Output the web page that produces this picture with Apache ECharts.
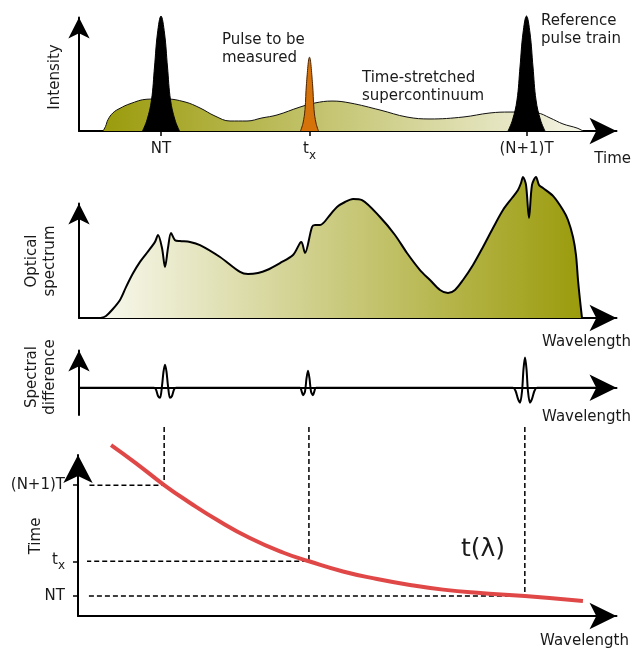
<!DOCTYPE html>
<html><head><meta charset="utf-8">
<script src="https://cdn.jsdelivr.net/npm/echarts@6/dist/echarts.min.js"></script>
<style>html,body{margin:0;padding:0;background:#fff}#c{width:633px;height:652px}</style>
</head><body><div id="c"></div>
<script>
// ---------- DATA (x in relative units along the horizontal axes) ----------
// Panel 1: time-stretched supercontinuum intensity vs time
const supercontinuum = [[4.8,0],[5.3,0.04],[5.8,0.1],[6.8,0.16],[8.2,0.2],[10.2,0.24],[13.6,0.28],[17.2,0.283],[21.2,0.256],[24.2,0.203],[27.2,0.132],[30.2,0.088],[33.6,0.088],[36.6,0.115],[39.6,0.141],[44.2,0.211],[47.2,0.247],[50.6,0.264],[54.2,0.247],[60.2,0.185],[65.6,0.123],[70.2,0.106],[76.8,0.123],[82.2,0.159],[86.2,0.167],[91.6,0.159],[94.2,0.115],[96.8,0.062],[99.6,0.026],[100.8,0]];
const refPulseNT = [[12.7,0],[13.6,0.097],[14.5,0.273],[15.1,0.564],[15.7,0.863],[16.4,1.013],[17.1,0.863],[17.7,0.564],[18.3,0.273],[19.2,0.097],[20.1,0]];
const refPulseN1T = [[85.8,0],[86.7,0.097],[87.6,0.273],[88.2,0.564],[88.8,0.863],[89.5,1.013],[90.2,0.863],[90.8,0.564],[91.4,0.273],[92.3,0.097],[93.2,0]];
const signalPulse = [[44.3,0],[44.8,0.07],[45.2,0.19],[45.5,0.42],[46.1,0.65],[46.7,0.42],[47.0,0.19],[47.4,0.07],[47.9,0]];
const timeTickValues = [16.4, 46.1, 89.5];
const timeTickLabels = ['NT', '{t|t}{s|x}', '(N+1)T'];

// Panel 2: optical spectrum vs wavelength
const opticalSpectrum = [[4.4,0],[5.4,0.018],[6.6,0.07],[8.2,0.158],[9.4,0.27],[10.8,0.39],[12.2,0.49],[13.6,0.57],[15.2,0.665],[15.8,0.725],[16.6,0.612],[17.2,0.445],[17.8,0.612],[18.4,0.743],[19.2,0.68],[20.2,0.672],[22.2,0.664],[24.2,0.637],[28.2,0.533],[32.2,0.402],[33.8,0.384],[35.8,0.393],[37.6,0.419],[40.2,0.48],[42.8,0.55],[44.2,0.655],[44.5,0.664],[45.2,0.568],[46.6,0.795],[47.2,0.812],[48.2,0.812],[50.2,0.9],[51.6,0.97],[53.2,1.013],[54.8,1.04],[56.6,1.03],[60.2,0.882],[63.2,0.725],[65.6,0.568],[68.2,0.419],[70.2,0.332],[72.2,0.245],[73.8,0.218],[75.2,0.245],[76.8,0.332],[78.8,0.463],[80.8,0.62],[82.8,0.786],[84.8,0.943],[86.6,1.048],[87.8,1.118],[88.4,1.179],[88.8,1.232],[89.4,1.162],[90.0,0.873],[90.6,1.162],[91.4,1.232],[92.0,1.162],[92.8,1.135],[94.8,1.066],[96.8,0.943],[97.8,0.856],[98.8,0.708],[99.4,0.55],[99.8,0.332],[100.2,0.157],[100.6,0]];

// Panel 3: spectral difference vs wavelength
const spectralDifference = [[0,0],[15.0,0],[15.4,-0.05],[15.8,-0.22],[16.2,-0.27],[16.6,0.05],[16.9,0.43],[17.2,0.62],[17.5,0.43],[17.8,0.05],[18.2,-0.27],[18.6,-0.22],[19.0,-0.05],[19.4,0],[44.2,0],[44.5,-0.08],[44.8,-0.2],[45.2,-0.1],[45.5,0.25],[45.8,0.46],[46.1,0.25],[46.4,-0.1],[46.8,-0.2],[47.1,-0.08],[47.4,0],[86.8,0],[87.3,-0.08],[87.8,-0.3],[88.2,-0.4],[88.6,-0.1],[88.9,0.5],[89.2,0.81],[89.5,0.5],[89.8,-0.1],[90.2,-0.4],[90.6,-0.3],[91.1,-0.08],[91.6,0],[106,0]];

// Panel 4: wavelength-to-time mapping t(λ), time in units of T relative to NT
const timeMapping = [[6.6,1.363],[11.4,1.205],[17.2,1.002],[22.4,0.84],[27.8,0.686],[34.3,0.524],[40.9,0.393],[46.1,0.314],[52.9,0.222],[59.7,0.154],[66.3,0.10],[72.9,0.058],[79.7,0.029],[89.2,0.0],[100.8,-0.045]];
const markWavelengths = [17.2, 46.1, 89.2];
const markTimes = [1.0, 0.314, 0.0];
const markTimeLabels = ['(N+1)T', '{t|t}{s|x}', 'NT'];

// ---------- LAYOUT / STYLE ----------
const FONT = 'DejaVu Sans';
const TXT = '#1a1a1a';
const X_MAX = 107.5;
const GUIDE_TOP = 1.526, GUIDE_START = 1.8;
const subRich = {
  t: { fontSize: 15, fontFamily: FONT, color: TXT, lineHeight: 18, verticalAlign: 'top' },
  s: { fontSize: 12, fontFamily: FONT, color: TXT, lineHeight: 12, verticalAlign: 'top', padding: [8, 0, 0, 0] }
};

function nearestLabel(v, vals, labels) {
  let bi = 0, bd = Infinity;
  vals.forEach((x, i) => { const d = Math.abs(x - v); if (d < bd) { bd = d; bi = i; } });
  return labels[bi];
}

const axisLineX = { show: true, onZero: true, symbol: ['none', 'arrow'], symbolSize: [20, 27], lineStyle: { color: '#000', width: 2 } };
const axisLineY = { show: true, symbol: ['none', 'arrow'], symbolSize: [16, 21], lineStyle: { color: '#000', width: 2 } };
function xAx(i, extra) {
  return Object.assign({ type: 'value', gridIndex: i, min: 0, max: X_MAX, splitLine: { show: false },
    axisLabel: { show: false }, axisTick: { show: false }, axisLine: axisLineX }, extra || {});
}
function yAx(i, min, max, extra) {
  return Object.assign({ type: 'value', gridIndex: i, min: min, max: max, splitLine: { show: false },
    axisLabel: { show: false }, axisTick: { show: false }, axisLine: axisLineY }, extra || {});
}

const olive = '#9b9b0c', pale = '#f8f8ee';
function grad(a, b) { return new echarts.graphic.LinearGradient(0, 0, 1, 0, [{ offset: 0, color: a }, { offset: 1, color: b }]); }

function areaSeries(data, xi, fill, stroke, w, z, sm) {
  return { type: 'line', xAxisIndex: xi, yAxisIndex: xi, data: data, smooth: sm == null ? 0.4 : sm, symbol: 'none',
    clip: false, silent: true, z: z, lineStyle: { color: stroke, width: w }, areaStyle: { color: fill, opacity: 1 } };
}

const guideSeries = markWavelengths.map((w, i) => ({
  type: 'line', xAxisIndex: 3, yAxisIndex: 3, symbol: 'none', clip: false, silent: true, z: 3,
  data: [[w, GUIDE_TOP], [w, markTimes[i]], [GUIDE_START, markTimes[i]]],
  lineStyle: { color: '#000', width: 1.5, type: [5, 3] }
}));

function txt(x, y, text, opts) {
  const o = opts || {};
  return { type: 'text', x: x, y: y, rotation: o.rot || 0, silent: true,
    style: { text: text, fill: TXT, fontSize: o.size || 15, fontFamily: FONT, lineHeight: o.lh || 18,
      align: o.align || 'left', textAlign: o.align || 'left',
      verticalAlign: o.va || 'top', textVerticalAlign: o.va || 'top' } };
}

const chart = echarts.init(document.getElementById('c'), null, { renderer: 'canvas' });
chart.setOption({
  animation: false,
  backgroundColor: '#fff',
  grid: [
    { left: 79, top: 17.5, width: 537.5, height: 113.5 },
    { left: 79, top: 203.5, width: 537.5, height: 114.5 },
    { left: 79, top: 350.5, width: 537.5, height: 64.5 },
    { left: 78, top: 455, width: 538.5, height: 161 }
  ],
  xAxis: [
    xAx(0, {
      axisTick: { show: true, customValues: timeTickValues, length: 5, lineStyle: { color: '#000', width: 1.5 } },
      axisLabel: { show: true, customValues: timeTickValues, margin: 11, color: TXT, fontSize: 15, fontFamily: FONT,
        rich: subRich, formatter: v => nearestLabel(v, timeTickValues, timeTickLabels) }
    }),
    xAx(1),
    xAx(2),
    xAx(3, { axisLine: Object.assign({}, axisLineX, { onZero: false }) })
  ],
  yAxis: [
    yAx(0, 0, 1),
    yAx(1, 0, 1),
    yAx(2, -0.73, 1),
    yAx(3, -0.18, 1.273, {
      axisLine: Object.assign({}, axisLineY, { symbolSize: [22, 28] }),
      axisTick: { show: true, customValues: markTimes, length: 5, lineStyle: { color: '#000', width: 1.5 } },
      axisLabel: { show: true, customValues: markTimes, margin: 13, color: TXT, fontSize: 15, fontFamily: FONT,
        rich: subRich, formatter: v => nearestLabel(v, markTimes, markTimeLabels) }
    })
  ],
  series: [
    areaSeries(supercontinuum, 0, grad(olive, '#f4f4e6'), '#111', 1, 2),
    areaSeries(refPulseNT, 0, '#000', '#000', 1, 3),
    areaSeries(refPulseN1T, 0, '#000', '#000', 1, 3),
    areaSeries(signalPulse, 0, '#d6720a', '#4a2200', 1, 3),
    areaSeries(opticalSpectrum, 1, grad(pale, olive), '#000', 2, 2, 0.3),
    { type: 'line', xAxisIndex: 2, yAxisIndex: 2, data: spectralDifference, smooth: 0.3,
      symbol: 'none', clip: false, silent: true, z: 3, lineStyle: { color: '#000', width: 2 } },
    ...guideSeries,
    { type: 'line', xAxisIndex: 3, yAxisIndex: 3, data: timeMapping, smooth: 0.5,
      symbol: 'none', clip: false, silent: true, z: 4, lineStyle: { color: '#e04848', width: 4, cap: 'butt' } }
  ],
  graphic: [
    txt(222, 31, 'Pulse to be\nmeasured'),
    txt(362, 69, 'Time-stretched\nsupercontinuum'),
    txt(541, 12, 'Reference\npulse train'),
    txt(631, 159, 'Time', { align: 'right', va: 'middle' }),
    txt(631, 342, 'Wavelength', { align: 'right', va: 'middle' }),
    txt(631, 417, 'Wavelength', { align: 'right', va: 'middle' }),
    txt(629, 641, 'Wavelength', { align: 'right', va: 'middle' }),
    txt(483, 549, 't(λ)', { align: 'center', va: 'middle', size: 25, lh: 30 }),
    txt(55, 77, 'Intensity', { align: 'center', va: 'middle', rot: Math.PI / 2 }),
    txt(41, 261, 'Optical\nspectrum', { align: 'center', va: 'middle', rot: Math.PI / 2 }),
    txt(41, 377, 'Spectral\ndifference', { align: 'center', va: 'middle', rot: Math.PI / 2 }),
    txt(36, 536, 'Time', { align: 'center', va: 'middle', rot: Math.PI / 2 })
  ]
});
</script>
</body></html>
